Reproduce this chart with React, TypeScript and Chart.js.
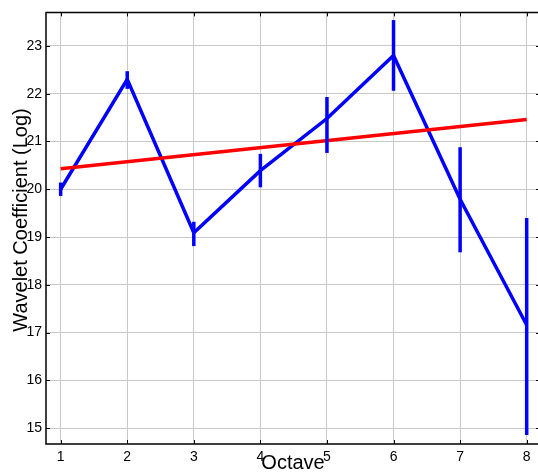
import React, { useEffect, useRef } from "react";
import { Chart, registerables } from "chart.js";

Chart.register(...registerables);

// Octave index along the x axis
const octaves = [1, 2, 3, 4, 5, 6, 7, 8];
// Mean wavelet coefficient (log) per octave
const coefficients = [20.0, 22.3, 19.09, 20.39, 21.48, 22.8, 19.79, 17.16];
// Error bar extents per octave
const errLow = [19.86, 22.1, 18.81, 20.04, 20.76, 22.06, 18.68, 14.86];
const errHigh = [20.14, 22.47, 19.32, 20.74, 21.93, 23.54, 20.88, 19.4];
// Fitted trend line end points
const fitX = [1, 8];
const fitY = [20.43, 21.46];
// Tick values
const xTicks = [1, 2, 3, 4, 5, 6, 7, 8];
const yTicks = [15, 16, 17, 18, 19, 20, 21, 22, 23];

const FONT = "'Liberation Sans', Arial, Helvetica, sans-serif";

const decorations = {
  id: "decorations",
  afterDatasetsDraw(chart: any) {
    const { ctx, scales } = chart;
    const xs = scales.x;
    const ys = scales.y;
    ctx.save();
    // error bars
    ctx.strokeStyle = "#0000ff";
    ctx.lineWidth = 3.5;
    ctx.lineCap = "butt";
    octaves.forEach((o, i) => {
      const px = xs.getPixelForValue(o);
      ctx.beginPath();
      ctx.moveTo(px, ys.getPixelForValue(errLow[i]));
      ctx.lineTo(px, ys.getPixelForValue(errHigh[i]));
      ctx.stroke();
    });
    ctx.restore();
  },
  afterDraw(chart: any) {
    const { ctx, chartArea, scales } = chart;
    const xs = scales.x;
    const ys = scales.y;
    const { left, right, top, bottom } = chartArea;
    ctx.save();
    // frame
    ctx.strokeStyle = "#000";
    ctx.lineWidth = 1.5;
    ctx.beginPath();
    ctx.moveTo(left, top);
    ctx.lineTo(right, top);
    ctx.lineTo(right, bottom);
    ctx.lineTo(left, bottom);
    ctx.closePath();
    ctx.stroke();
    // inward tick marks
    ctx.lineWidth = 1;
    const len = 4;
    xTicks.forEach((t) => {
      const px = Math.round(xs.getPixelForValue(t)) + 0.5;
      ctx.beginPath();
      ctx.moveTo(px, bottom);
      ctx.lineTo(px, bottom - len);
      ctx.moveTo(px, top);
      ctx.lineTo(px, top + len);
      ctx.stroke();
    });
    yTicks.forEach((t) => {
      const py = Math.round(ys.getPixelForValue(t)) + 0.5;
      ctx.beginPath();
      ctx.moveTo(left, py);
      ctx.lineTo(left + len, py);
      ctx.moveTo(right, py);
      ctx.lineTo(right - len, py);
      ctx.stroke();
    });
    // axis titles
    ctx.fillStyle = "#000";
    ctx.font = `20px ${FONT}`;
    ctx.textAlign = "center";
    ctx.textBaseline = "alphabetic";
    ctx.fillText("Octave", (left + right) / 2, 469);
    ctx.save();
    ctx.translate(27, 220);
    ctx.rotate(-Math.PI / 2);
    ctx.font = `20px ${FONT}`;
    ctx.fillText("Wavelet Coefficient (Log)", 0, 0);
    ctx.restore();
    ctx.restore();
  },
};

export default function App() {
  const ref = useRef<HTMLCanvasElement>(null);

  useEffect(() => {
    if (!ref.current) return;
    const chart = new Chart(ref.current, {
      type: "line",
      data: {
        datasets: [
          {
            label: "Trend",
            data: fitX.map((x, i) => ({ x, y: fitY[i] })),
            borderColor: "#ff0000",
            borderWidth: 3.5,
            pointRadius: 0,
            tension: 0,
            fill: false,
          },
          {
            label: "Coefficient",
            data: octaves.map((x, i) => ({ x, y: coefficients[i] })),
            borderColor: "#0000ff",
            borderWidth: 3.5,
            pointRadius: 0,
            tension: 0,
            fill: false,
          },
        ],
      },
      options: {
        responsive: false,
        animation: false,
        devicePixelRatio: 1,
        layout: { padding: { top: 5, right: 0, left: 0, bottom: 0 } },
        plugins: {
          legend: { display: false },
          tooltip: { enabled: false },
          title: { display: false },
        },
        scales: {
          x: {
            type: "linear",
            min: 0.78,
            max: 8.2,
            afterFit: (s: any) => {
              s.height = 29;
            },
            afterBuildTicks: (s: any) => {
              s.ticks = xTicks.map((v) => ({ value: v }));
            },
            grid: { color: "#c8c8c8", lineWidth: 1, drawTicks: false },
            border: { display: false },
            ticks: {
              padding: 5,
              color: "#000",
              font: { family: FONT, size: 14 },
              callback: (v: any) => String(v),
            },
          },
          y: {
            type: "linear",
            min: 14.67,
            max: 23.7,
            afterFit: (s: any) => {
              s.width = 46;
            },
            afterBuildTicks: (s: any) => {
              s.ticks = yTicks.map((v) => ({ value: v }));
            },
            grid: { color: "#c8c8c8", lineWidth: 1, drawTicks: false },
            border: { display: false },
            ticks: {
              padding: 4,
              color: "#000",
              font: { family: FONT, size: 14 },
              callback: (v: any) => String(v),
            },
          },
        },
      },
      plugins: [decorations],
    });
    return () => chart.destroy();
  }, []);

  return (
    <canvas
      ref={ref}
      width={540}
      height={473}
      style={{ position: "absolute", left: 0, top: 0, width: 540, height: 473 }}
    />
  );
}
